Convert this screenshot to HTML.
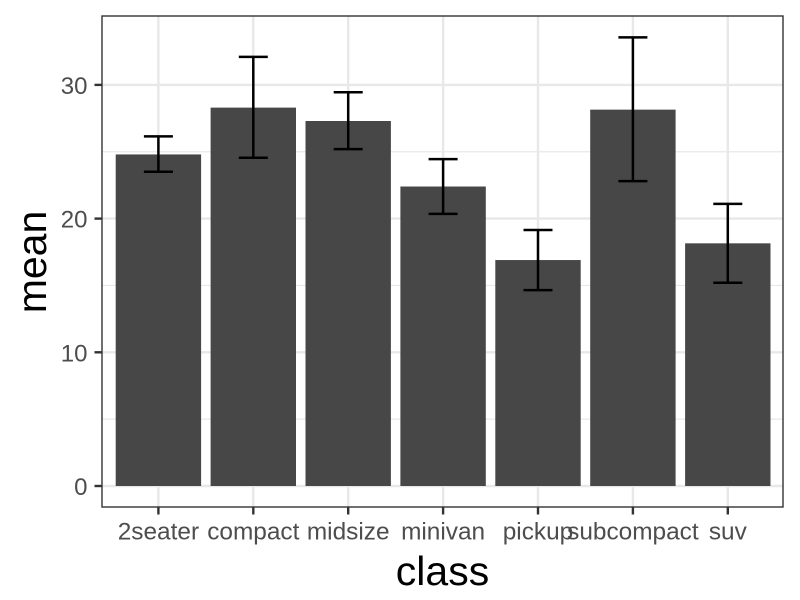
<!DOCTYPE html>
<html>
<head>
<meta charset="utf-8">
<style>
html,body{margin:0;padding:0;background:#fff;}
svg{display:block;}
text{font-family:"Liberation Sans",Arial,sans-serif;}
</style>
</head>
<body>
<svg id="chart" width="800" height="600" viewBox="0 0 800 600" xmlns="http://www.w3.org/2000/svg"></svg>
<script>
const categories = ['2seater','compact','midsize','minivan','pickup','subcompact','suv'];
const means = [24.8,28.3,27.3,22.4,16.9,28.15,18.15];
const errLow = [23.5,24.55,25.2,20.35,14.65,22.8,15.2];
const errHigh = [26.15,32.1,29.45,24.45,19.15,33.55,21.1];
const yTicks = [0,10,20,30];
const yMinor = [5,15,25];

const svg = document.getElementById('chart');
const NS = 'http://www.w3.org/2000/svg';
const panel = {l:102,r:783,t:16,b:507};
const yScale = v => 486 - v * 13.37;
const xScale = i => 158.4 + i * 94.9;
const barW = 85.4;
const capW = 29;

function add(tag, attrs, parent){
  const el = document.createElementNS(NS, tag);
  for (const k in attrs) el.setAttribute(k, attrs[k]);
  (parent || svg).appendChild(el);
  return el;
}

yMinor.forEach(v => {
  const l = add('line',{x1:panel.l,x2:panel.r,y1:yScale(v),y2:yScale(v),stroke:'#e8e8e8','stroke-width':1.2});
  
  
});
yTicks.forEach(v => {
  const l = add('line',{x1:panel.l,x2:panel.r,y1:yScale(v),y2:yScale(v),stroke:'#e8e8e8','stroke-width':2.4});
  
  
});
categories.forEach((c,i) => {
  const l = add('line',{x1:xScale(i),x2:xScale(i),y1:panel.t,y2:panel.b,stroke:'#e8e8e8','stroke-width':2.4});
  
  
});

categories.forEach((c,i) => {
  const b = add('rect',{x:xScale(i)-barW/2,y:yScale(means[i]),width:barW,height:yScale(0)-yScale(means[i]),fill:'#474747'});
  
  
});

categories.forEach((c,i) => {
  const x = xScale(i);
  const g = add('g',{stroke:'#000','stroke-width':2.5,fill:'none'});
  
  
  add('line',{x1:x,x2:x,y1:yScale(errLow[i]),y2:yScale(errHigh[i])},g);
  add('line',{x1:x-capW/2,x2:x+capW/2,y1:yScale(errLow[i]),y2:yScale(errLow[i])},g);
  add('line',{x1:x-capW/2,x2:x+capW/2,y1:yScale(errHigh[i]),y2:yScale(errHigh[i])},g);
});

const border = add('rect',{x:panel.l,y:panel.t,width:panel.r-panel.l,height:panel.b-panel.t,fill:'none',stroke:'#333','stroke-width':1.4});



yTicks.forEach(v => {
  const t = add('line',{x1:94.5,x2:102,y1:yScale(v),y2:yScale(v),stroke:'#333','stroke-width':2.4});
  
  
  const lb = add('text',{x:87.5,y:yScale(v)+9,'text-anchor':'end','font-size':24,fill:'#4d4d4d'});
  lb.textContent = v;
  
  
});
categories.forEach((c,i) => {
  const t = add('line',{x1:xScale(i),x2:xScale(i),y1:507,y2:514.5,stroke:'#333','stroke-width':2.4});
  
  
  const lb = add('text',{x:xScale(i),y:539.5,'text-anchor':'middle','font-size':24.4,fill:'#4d4d4d'});
  lb.textContent = c;
  
  
});

const xt = add('text',{x:442.5,y:585,'text-anchor':'middle','font-size':41,fill:'#000'});
xt.textContent = 'class';



const yt = add('text',{x:0,y:0,transform:'translate(46 262) rotate(-90)','text-anchor':'middle','font-size':41,fill:'#000'});
yt.textContent = 'mean';


</script>
</body>
</html>
